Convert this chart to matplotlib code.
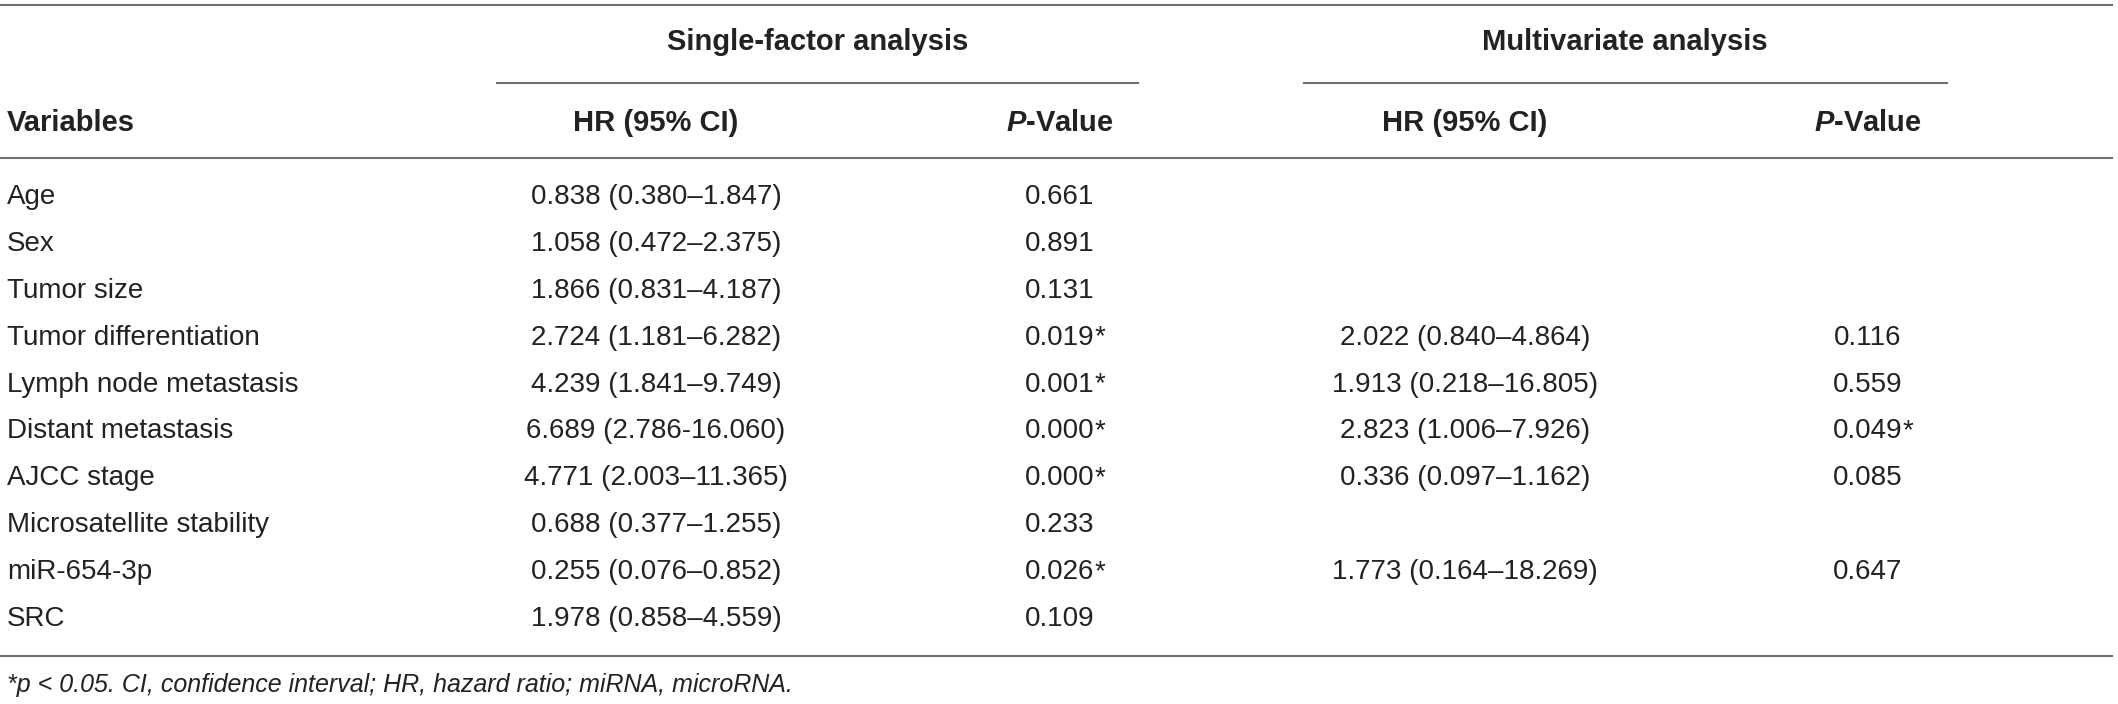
import matplotlib.pyplot as plt

variables = ["Age", "Sex", "Tumor size", "Tumor differentiation",
             "Lymph node metastasis", "Distant metastasis", "AJCC stage",
             "Microsatellite stability", "miR-654-3p", "SRC"]

single_hr = ["0.838 (0.380\u20131.847)", "1.058 (0.472\u20132.375)",
             "1.866 (0.831\u20134.187)", "2.724 (1.181\u20136.282)",
             "4.239 (1.841\u20139.749)", "6.689 (2.786-16.060)",
             "4.771 (2.003\u201311.365)", "0.688 (0.377\u20131.255)",
             "0.255 (0.076\u20130.852)", "1.978 (0.858\u20134.559)"]
single_p = ["0.661", "0.891", "0.131", "0.019*", "0.001*", "0.000*",
            "0.000*", "0.233", "0.026*", "0.109"]

multi_hr = [None, None, None, "2.022 (0.840\u20134.864)",
            "1.913 (0.218\u201316.805)", "2.823 (1.006\u20137.926)",
            "0.336 (0.097\u20131.162)", None, "1.773 (0.164\u201318.269)", None]
multi_p = [None, None, None, "0.116", "0.559", "0.049*", "0.085", None,
           "0.647", None]

group_titles = ["Single-factor analysis", "Multivariate analysis"]
col_headers = ["HR (95% CI)", "$\\bfit{P}$-Value"]
footnote = "*p < 0.05. CI, confidence interval; HR, hazard ratio; miRNA, microRNA."

W, H = 2118, 704
plt.rcParams['font.family'] = ['Liberation Sans', 'DejaVu Sans']
plt.rcParams['mathtext.fontset'] = 'custom'
plt.rcParams['mathtext.bfit'] = 'Liberation Sans:bold:italic'

fig = plt.figure(figsize=(W / 100, H / 100), dpi=100)
ax = fig.add_axes([0, 0, 1, 1])
ax.set_xlim(0, W)
ax.set_ylim(H, 0)
ax.axis('off')

line_col = '#707070'
txt_col = '#222222'
body_fs = 20
head_fs = 21

# horizontal rules
ax.plot([0, 2112], [5, 5], color=line_col, lw=1.5)
ax.plot([497, 1138], [83, 83], color=line_col, lw=1.5)
ax.plot([1304, 1947], [83, 83], color=line_col, lw=1.5)
ax.plot([0, 2112], [158, 158], color=line_col, lw=1.5)
ax.plot([0, 2112], [656, 656], color=line_col, lw=1.5)

# headers
group_x = [818, 1625]
for gx, t in zip(group_x, group_titles):
    ax.text(gx, 42, t, ha='center', va='center', fontsize=head_fs,
            fontweight='bold', color=txt_col)

col_x = [656, 1060, 1465, 1868]
ax.text(7, 123, "Variables", ha='left', va='center', fontsize=head_fs,
        fontweight='bold', color=txt_col)
for i, cx in enumerate(col_x):
    ax.text(cx, 123, col_headers[i % 2], ha='center', va='center',
            fontsize=head_fs, fontweight='bold', color=txt_col)

# body rows
row_y0, row_h = 197, 46.9


def put_p(x, y, s):
    # centre the number, hang the star after it
    if s.endswith('*'):
        t = ax.text(x, y, s[:-1], ha='center', va='center', fontsize=body_fs,
                    color=txt_col)
        ax.annotate('*', xy=(1, 0.5), xycoords=t, ha='left', va='center',
                    fontsize=body_fs, color=txt_col)
    else:
        ax.text(x, y, s, ha='center', va='center', fontsize=body_fs,
                color=txt_col)


for i, v in enumerate(variables):
    y = row_y0 + i * row_h
    ax.text(7, y, v, ha='left', va='center', fontsize=body_fs, color=txt_col)
    ax.text(col_x[0], y, single_hr[i], ha='center', va='center',
            fontsize=body_fs, color=txt_col)
    put_p(col_x[1], y, single_p[i])
    if multi_hr[i] is not None:
        ax.text(col_x[2], y, multi_hr[i], ha='center', va='center',
                fontsize=body_fs, color=txt_col)
        put_p(col_x[3], y, multi_p[i])

ax.text(7, 685, footnote, ha='left', va='center', fontsize=18,
        style='italic', color=txt_col)

fig.savefig('out.png', dpi=100)
